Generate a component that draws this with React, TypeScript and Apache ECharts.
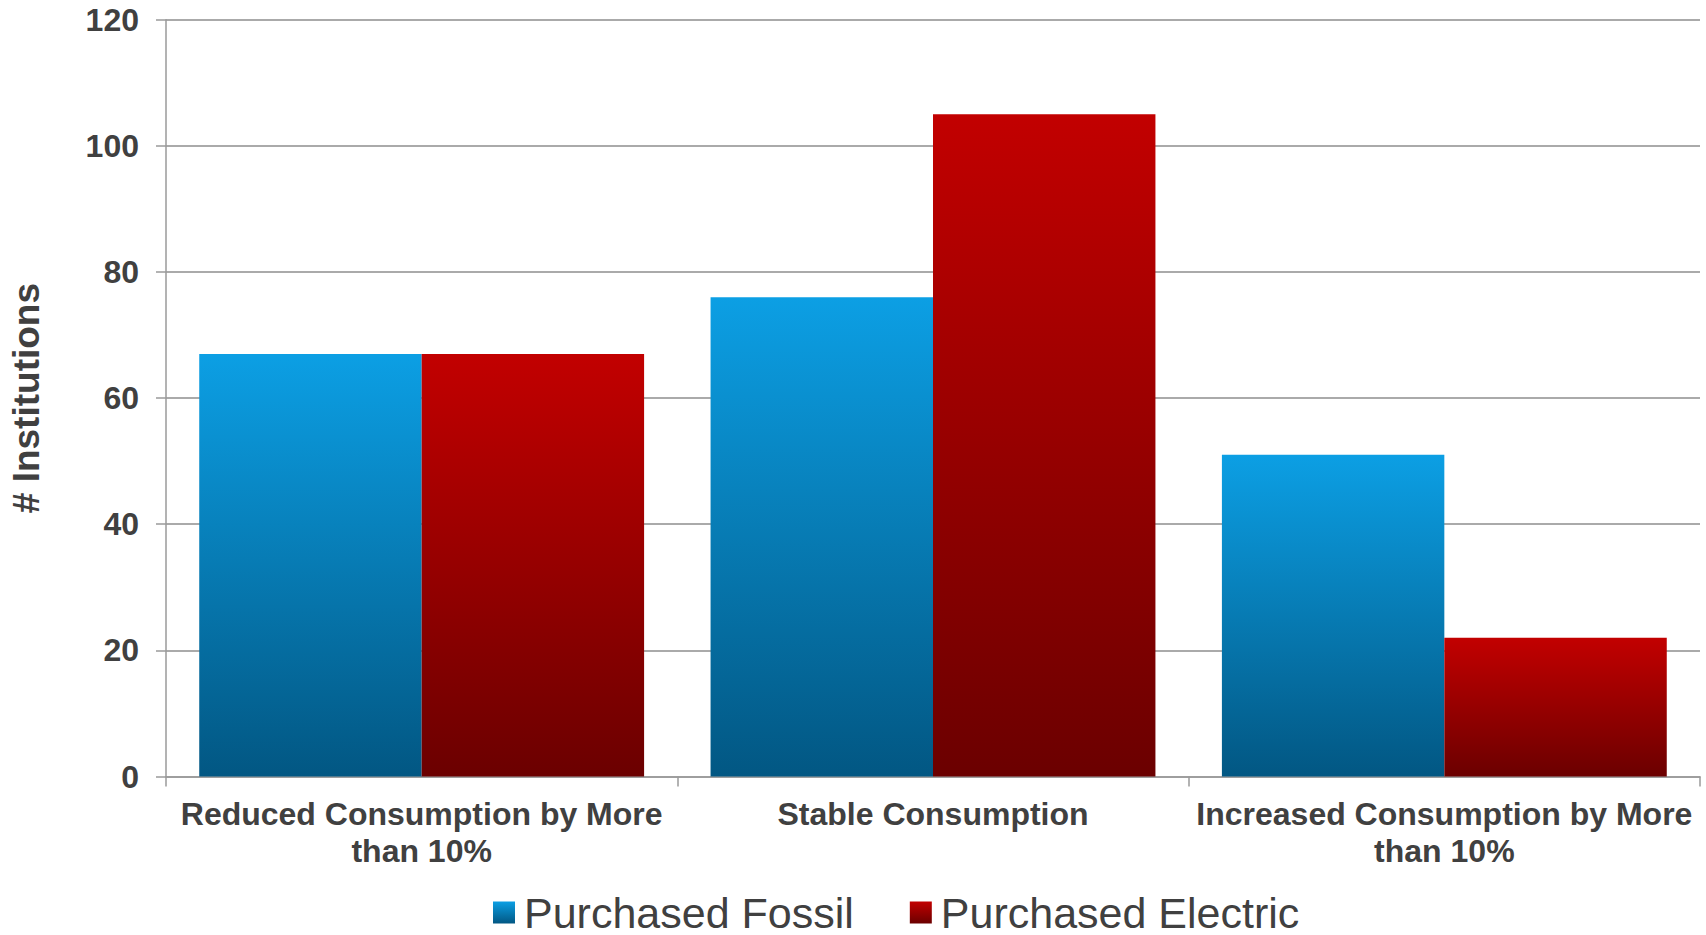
import React, { useEffect, useRef } from "react";
import * as echarts from "echarts";

// Consumption-change categories (line breaks as drawn under the axis)
const categories: string[] = [
  "Reduced Consumption by More\nthan 10%",
  "Stable Consumption",
  "Increased Consumption by More\nthan 10%",
];

const seriesNames: string[] = ["Purchased Fossil", "Purchased Electric"];

const fossilValues: number[] = [67, 76, 51];
const electricValues: number[] = [67, 105, 22];

const yMin = 0;
const yMax = 120;
const yInterval = 20;

const FONT = '"Liberation Sans", Arial, sans-serif';
const TEXT = "#404040";

const blueGradient = () =>
  new echarts.graphic.LinearGradient(0, 0, 0, 1, [
    { offset: 0, color: "#0c9fe4" },
    { offset: 1, color: "#025783" },
  ]);

const redGradient = () =>
  new echarts.graphic.LinearGradient(0, 0, 0, 1, [
    { offset: 0, color: "#c20000" },
    { offset: 1, color: "#6b0000" },
  ]);

export default function App() {
  const ref = useRef<HTMLDivElement>(null);

  useEffect(() => {
    if (!ref.current) return;
    const chart = echarts.init(ref.current, undefined, { renderer: "svg" });
    chart.setOption({
      animation: false,
      backgroundColor: "#ffffff",
      textStyle: { fontFamily: FONT },
      grid: { left: 164.5, right: 6, top: 19.7, bottom: 158.5, containLabel: false },
      legend: {
        data: seriesNames,
        left: 488,
        top: 886,
        icon: "rect",
        itemWidth: 22,
        itemHeight: 22,
        itemGap: 56,
        textStyle: {
          fontFamily: FONT,
          fontSize: 43,
          color: TEXT,
          lineHeight: 42,
          padding: [0, 0, 0, 4],
        },
      },
      xAxis: {
        type: "category",
        data: categories,
        axisLine: { lineStyle: { color: "#9a9a9a", width: 1.5 } },
        axisTick: { show: true, length: 10, lineStyle: { color: "#9a9a9a", width: 1.5 } },
        axisLabel: {
          interval: 0,
          margin: 19,
          fontFamily: FONT,
          fontSize: 32,
          fontWeight: "bold",
          color: TEXT,
          lineHeight: 37,
        },
      },
      yAxis: {
        type: "value",
        min: yMin,
        max: yMax,
        interval: yInterval,
        name: "# Institutions",
        nameLocation: "middle",
        nameRotate: 90,
        nameGap: 121,
        nameTextStyle: {
          fontFamily: FONT,
          fontSize: 37,
          fontWeight: "bold",
          color: TEXT,
        },
        axisLine: { show: true, lineStyle: { color: "#9a9a9a", width: 1.5 } },
        axisTick: { show: true, length: 10, lineStyle: { color: "#9a9a9a", width: 1.5 } },
        splitLine: { lineStyle: { color: "#8e8e8e", width: 1.6 } },
        axisLabel: {
          margin: 27,
          fontFamily: FONT,
          fontSize: 32,
          fontWeight: "bold",
          color: TEXT,
        },
      },
      series: [
        {
          name: seriesNames[0],
          type: "bar",
          data: fossilValues,
          barGap: "0%",
          barCategoryGap: "13%",
          itemStyle: { color: blueGradient() },
        },
        {
          name: seriesNames[1],
          type: "bar",
          data: electricValues,
          barGap: "0%",
          barCategoryGap: "13%",
          itemStyle: { color: redGradient() },
        },
      ],
    });
    return () => chart.dispose();
  }, []);

  return (
    <div
      ref={ref}
      style={{ position: "fixed", left: 0, top: 0, width: 1706, height: 935, background: "#fff" }}
    />
  );
}
